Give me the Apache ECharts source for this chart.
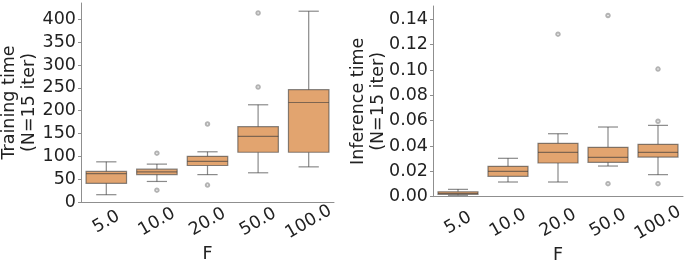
<!DOCTYPE html>
<html>
<head>
<meta charset="utf-8">
<script src="https://cdn.jsdelivr.net/npm/echarts@6/dist/echarts.min.js"></script>
<style>
  html, body { margin: 0; padding: 0; background: #fff; }
  #graphic-boxplot { width: 685px; height: 264px; }
</style>
</head>
<body>
<div id="graphic-boxplot"></div>
<script>
// Données : [min, q1, médiane, q3, max] par catégorie
const categories = ['5.0', '10.0', '20.0', '50.0', '100.0'];

const trainBoxes = [
    [16, 41, 62, 67, 88],
    [45, 60, 66, 72, 83],
    [60, 80, 89, 100, 110],
    [64, 109, 144, 165, 213],
    [77, 109, 218, 246, 418]
];
const trainOutliers = [[1, 107], [1, 26], [2, 171], [2, 37], [3, 414], [3, 252]];

const inferBoxes = [
    [0.0011, 0.0019, 0.0027, 0.0039, 0.0058],
    [0.0116, 0.0161, 0.020, 0.024, 0.0303],
    [0.0116, 0.0266, 0.035, 0.0421, 0.0497],
    [0.0242, 0.0271, 0.031, 0.039, 0.055],
    [0.0174, 0.0313, 0.035, 0.0413, 0.0563]
];
const inferOutliers = [[2, 0.1283], [3, 0.143], [3, 0.0103], [4, 0.1007], [4, 0.0595], [4, 0.0103]];

const trainTicks = { min: 0, max: 436, interval: 50 };
const inferTicks = { min: 0, max: 0.1505, interval: 0.02 };

const FONT = 'DejaVu Sans';
const FILL = '#e2a46f';
const LINE = 'rgba(60,60,60,0.6)';
const SPINE = '#8f8f8f';

// Dessin d'une boîte (moustaches, boîte, médiane) via les axes de la lib
function renderBox(params, api) {
    const i = api.value(0);
    const pLow = api.coord([i, api.value(1)]);
    const pQ1 = api.coord([i, api.value(2)]);
    const pMed = api.coord([i, api.value(3)]);
    const pQ3 = api.coord([i, api.value(4)]);
    const pHigh = api.coord([i, api.value(5)]);
    const w = api.size([1, 0])[0] * 0.8;
    const x = pMed[0];
    const lineStyle = { stroke: LINE, lineWidth: 1.2, fill: null };
    return {
        type: 'group',
        children: [
            { type: 'line', shape: { x1: x, y1: pLow[1], x2: x, y2: pQ1[1] }, style: lineStyle },
            { type: 'line', shape: { x1: x, y1: pQ3[1], x2: x, y2: pHigh[1] }, style: lineStyle },
            { type: 'line', shape: { x1: x - w / 4, y1: pLow[1], x2: x + w / 4, y2: pLow[1] }, style: lineStyle },
            { type: 'line', shape: { x1: x - w / 4, y1: pHigh[1], x2: x + w / 4, y2: pHigh[1] }, style: lineStyle },
            {
                type: 'rect',
                shape: { x: x - w / 2, y: pQ3[1], width: w, height: pQ1[1] - pQ3[1] },
                style: { fill: FILL, stroke: LINE, lineWidth: 1.2 }
            },
            { type: 'line', shape: { x1: x - w / 2, y1: pMed[1], x2: x + w / 2, y2: pMed[1] }, style: lineStyle }
        ]
    };
}

function xAxisOf(gridIndex, offset) {
    return {
        type: 'category',
        gridIndex: gridIndex,
        data: categories,
        offset: offset,
        name: 'F',
        nameLocation: 'middle',
        nameGap: 42,
        nameMoveOverlap: false,
        nameTextStyle: { fontFamily: FONT, fontSize: 17.5, color: '#222' },
        axisLine: { lineStyle: { color: SPINE, width: 1 } },
        axisTick: { alignWithLabel: true, length: 3, lineStyle: { color: SPINE } },
        axisLabel: {
            rotate: 30,
            align: 'center',
            verticalAlign: 'middle',
            margin: 19,
            fontFamily: FONT,
            fontSize: 17.5,
            color: '#222'
        },
        splitLine: { show: false }
    };
}

function yAxisOf(gridIndex, ticks, name, gap, digits) {
    return {
        type: 'value',
        gridIndex: gridIndex,
        min: ticks.min,
        max: ticks.max,
        interval: ticks.interval,
        name: name,
        nameLocation: 'middle',
        nameGap: gap,
        nameMoveOverlap: false,
        nameTextStyle: { fontFamily: FONT, fontSize: 17.5, color: '#222', lineHeight: 20 },
        axisLine: { show: true, lineStyle: { color: SPINE, width: 1 } },
        axisTick: { show: true, length: 3, lineStyle: { color: SPINE } },
        axisLabel: {
            margin: 5,
            showMaxLabel: false,
            fontFamily: FONT,
            fontSize: 17.5,
            color: '#222',
            formatter: function (v) { return v.toFixed(digits); }
        },
        splitLine: { show: false }
    };
}

const chart = echarts.init(document.getElementById('graphic-boxplot'), null, { renderer: 'canvas' });

const option = {
    animation: false,
    grid: [
        { left: 81, right: 351, top: 3, bottom: 62, outerBoundsMode: 'none' },
        { left: 433, right: 2, top: 6, bottom: 67.3, outerBoundsMode: 'none' }
    ],
    xAxis: [xAxisOf(0, 1), xAxisOf(1, 7.3)],
    yAxis: [
        yAxisOf(0, trainTicks, 'Training time\n(N=15 iter)', 42, 0),
        yAxisOf(1, inferTicks, 'Inference time\n(N=15 iter)', 45, 2)
    ],
    series: [
        {
            type: 'custom',
            xAxisIndex: 0,
            yAxisIndex: 0,
            renderItem: renderBox,
            data: trainBoxes.map((b, i) => [i].concat(b))
        },
        {
            type: 'scatter',
            xAxisIndex: 0,
            yAxisIndex: 0,
            symbol: 'emptyCircle',
            symbolSize: 3.5,
            itemStyle: { color: '#a0a0a0', borderWidth: 0.8 },
            data: trainOutliers
        },
        {
            type: 'custom',
            xAxisIndex: 1,
            yAxisIndex: 1,
            renderItem: renderBox,
            data: inferBoxes.map((b, i) => [i].concat(b))
        },
        {
            type: 'scatter',
            xAxisIndex: 1,
            yAxisIndex: 1,
            symbol: 'emptyCircle',
            symbolSize: 3.5,
            itemStyle: { color: '#a0a0a0', borderWidth: 0.8 },
            data: inferOutliers
        }
    ]
};

chart.setOption(option);
window.addEventListener('resize', chart.resize);
</script>
</body>
</html>
